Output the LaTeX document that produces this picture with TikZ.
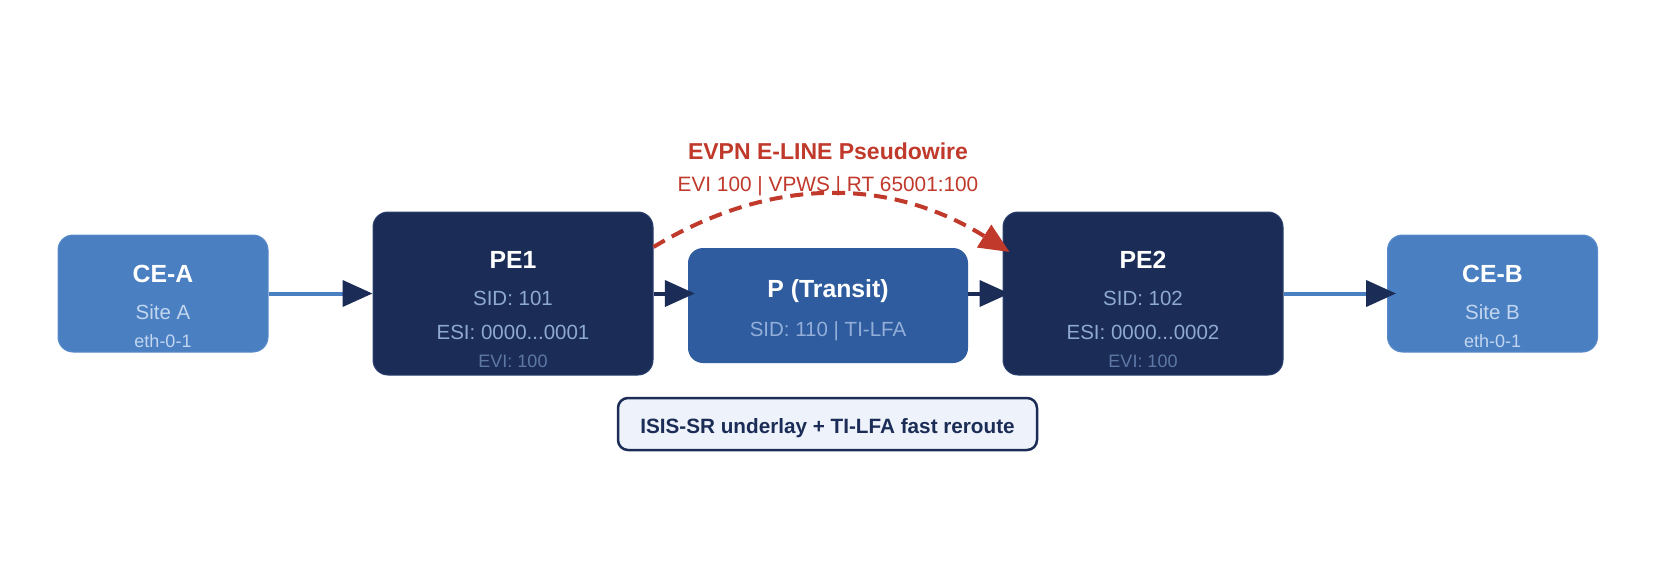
\documentclass[tikz,border=0pt]{standalone}
\usepackage{fontspec}
\setmainfont{Liberation Sans}
\usetikzlibrary{arrows.meta}
\definecolor{ceblue}{HTML}{4A7FC1}
\definecolor{ceedge}{HTML}{5A8CCB}
\definecolor{navy}{HTML}{1B2D56}
\definecolor{navyedge}{HTML}{2C4170}
\definecolor{pblue}{HTML}{2E5C9E}
\definecolor{evpnred}{HTML}{C0392B}
\definecolor{cesub}{HTML}{C2D6F0}
\definecolor{pesub}{HTML}{8FAAD2}
\definecolor{pedim}{HTML}{5E78A6}
\definecolor{psub}{HTML}{93AFD9}
\definecolor{notefill}{HTML}{EEF2FA}
\tikzset{
  boxbase/.style={rectangle, rounded corners=15pt, inner sep=0pt},
  cebox/.style={boxbase, fill=ceblue, draw=ceedge, line width=1pt, minimum width=210pt, minimum height=117pt},
  pebox/.style={boxbase, fill=navy, draw=navyedge, line width=1pt, minimum width=280pt, minimum height=163pt},
  pbox/.style={boxbase, fill=pblue, minimum width=280pt, minimum height=115pt},
  notebox/.style={rectangle, rounded corners=10pt, fill=notefill, draw=navy, line width=2.5pt, minimum width=419pt, minimum height=52pt, inner sep=0pt},
  ttl/.style={anchor=base, text=white, font=\fontsize{24.8}{28}\selectfont\bfseries, inner sep=0pt},
  sub/.style={anchor=base, font=\fontsize{20.5}{24}\selectfont, inner sep=0pt},
  small/.style={anchor=base, font=\fontsize{18}{22}\selectfont, inner sep=0pt},
  tiphead/.style={-{Triangle[length=30pt,width=26pt,color=#1]}},
  celine/.style={draw=ceblue, line width=4pt, tiphead=navy},
  navline/.style={draw=navy, line width=4pt, tiphead=navy},
  evpn/.style={draw=evpnred, line width=4pt, dash pattern=on 13pt off 8pt, tiphead=evpnred}
}
\begin{document}
\begin{tikzpicture}[x=1pt,y=-1pt]
\useasboundingbox (0,0) rectangle (1656,586);
\fill[white] (0,0) rectangle (1656,586);

% boxes
\node[cebox] (cea) at (163,293.5) {};
\node[pebox] (pe1) at (513,293.5) {};
\node[pbox] (p) at (828,305.5) {};
\node[pebox] (pe2) at (1143,293.5) {};
\node[cebox] (ceb) at (1492.5,293.5) {};
\node[notebox] (note) at (827.5,424) {};

% texts
\node[ttl] (ceaT) at (163,282) {CE-A};
\node[sub, text=cesub] (ceaS) at (163,319) {Site A};
\node[small, text=cesub] (ceaI) at (163,347) {eth-0-1};

\node[ttl] (pe1T) at (513,268) {PE1};
\node[sub, text=pesub] (pe1S) at (513,305) {SID: 101};
\node[sub, text=pesub] (pe1E) at (513,339) {ESI: 0000...0001};
\node[small, text=pedim] (pe1V) at (513,367) {EVI: 100};

\node[ttl] (pT) at (828,297) {P (Transit)};
\node[sub, text=psub] (pS) at (828,336) {SID: 110 | TI-LFA};

\node[ttl] (pe2T) at (1143,268) {PE2};
\node[sub, text=pesub] (pe2S) at (1143,305) {SID: 102};
\node[sub, text=pesub] (pe2E) at (1143,339) {ESI: 0000...0002};
\node[small, text=pedim] (pe2V) at (1143,367) {EVI: 100};

\node[ttl] (cebT) at (1492.5,282) {CE-B};
\node[sub, text=cesub] (cebS) at (1492.5,319) {Site B};
\node[small, text=cesub] (cebI) at (1492.5,347) {eth-0-1};

\node[anchor=base, inner sep=0pt, text=evpnred, font=\fontsize{23}{26}\selectfont\bfseries] (evT) at (828,159) {EVPN E-LINE Pseudowire};
\node[anchor=base, inner sep=0pt, text=evpnred, font=\fontsize{20.8}{24}\selectfont] (evS) at (828,191) {EVI 100 | VPWS | RT 65001:100};

\node[anchor=base, inner sep=0pt, text=navy, font=\fontsize{20.7}{24}\selectfont\bfseries] (noteT) at (827.5,433) {ISIS-SR underlay + TI-LFA fast reroute};

% connectors
\draw[celine] (cea.east) -- (pe1.west);
\draw[navline, shorten >=-7pt] (pe1.east) -- (pe1.east -| p.west);
\draw[navline, shorten >=-7pt] (p.east |- pe2.west) -- (pe2.west);
\draw[celine, shorten >=-9pt] (pe2.east) -- (ceb.west);

\draw[evpn] ([yshift=46.5pt]pe1.east) .. controls (771,176) and (890,177) .. ([xshift=7pt,yshift=41.5pt]pe2.west);
\end{tikzpicture}
\end{document}
